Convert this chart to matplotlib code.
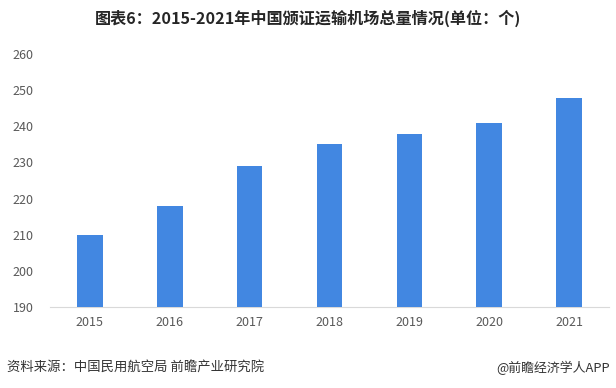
import matplotlib as mpl
import matplotlib.pyplot as plt

mpl.rcParams['font.family'] = ['Noto Sans CJK SC', 'DejaVu Sans']

years = ['2015', '2016', '2017', '2018', '2019', '2020', '2021']
airports = [210, 218, 229, 235, 238, 241, 248]
y_ticks = [190, 200, 210, 220, 230, 240, 250, 260]

title = '图表6：2015-2021年中国颁证运输机场总量情况(单位：个)'
source = '资料来源：中国民用航空局 前瞻产业研究院'
credit = '@前瞻经济学人APP'

fig = plt.figure(figsize=(6.16, 3.88), dpi=100)
ax = fig.add_axes([50 / 616, 1 - 306.7 / 388, 559 / 616, 252.4 / 388])

ax.bar(range(len(years)), [v - 190 for v in airports], bottom=190,
       width=0.32, color='#4287E1', zorder=3)

ax.set_xlim(-0.5, len(years) - 0.5)
ax.set_ylim(190, 260)
ax.set_yticks(y_ticks)
ax.set_xticks(range(len(years)))
ax.set_xticklabels(years)
ax.tick_params(axis='both', length=0, labelsize=9, colors='#595959')
ax.tick_params(axis='y', pad=12)
ax.tick_params(axis='x', pad=7)

for side in ['top', 'right', 'left']:
    ax.spines[side].set_visible(False)
ax.spines['bottom'].set_color('#D9D9D9')

fig.text(0.5, 1 - 18 / 388, title, ha='center', va='center',
         fontsize=11.6, fontweight='bold', color='#262626')
fig.text(7 / 616, 1 - 368 / 388, source, ha='left', va='center',
         fontsize=9.6, color='#333333')
fig.text(610 / 616, 1 - 368 / 388, credit, ha='right', va='center',
         fontsize=9.3, color='#333333')

plt.savefig('out.png', dpi=100)
